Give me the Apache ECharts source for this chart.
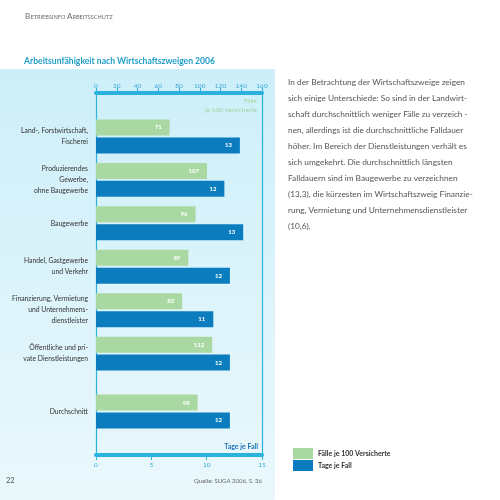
<!DOCTYPE html>
<html>
<head>
<meta charset="utf-8">
<script src="https://cdn.jsdelivr.net/npm/echarts@6/dist/echarts.min.js"></script>
<style>
html,body{margin:0;padding:0;background:#fff;}
#c{width:500px;height:500px;}
</style>
</head>
<body>
<div id="c"></div>
<script>
// ---- data ----
const categories = [
  'Land-, Forstwirtschaft,\nFischerei',
  'Produzierendes\nGewerbe,\nohne Baugewerbe',
  'Baugewerbe',
  'Handel, Gastgewerbe\nund Verkehr',
  'Finanzierung, Vermietung\nund Unternehmens-\ndienstleister',
  'Öffentliche und pri-\nvate Dienstleistungen',
  'Durchschnitt'
];
const faelleJe100 = [71, 107, 96, 89, 83, 112, 98];
const tageJeFall = [13.0, 11.6, 13.3, 12.1, 10.6, 12.1, 12.1];
const seriesNames = ['Fälle je 100 Versicherte', 'Tage je Fall'];
const faelleAxis = {min: 0, max: 160, interval: 20};
const tageAxis = {min: 0, max: 15, interval: 5};
const paragraph = [
  'In der Betrachtung der Wirtschaftszweige zeigen',
  'sich einige Unterschiede: So sind in der Landwirt-',
  'schaft durchschnittlich weniger Fälle zu verzeich -',
  'nen, allerdings ist die durchschnittliche Falldauer',
  'höher. Im Bereich der Dienstleistungen verhält es',
  'sich umgekehrt. Die durchschnittlich längsten',
  'Falldauern sind im Baugewerbe zu verzeichnen',
  '(13,3), die kürzesten im Wirtschaftszweig Finanzie-',
  'rung, Vermietung und Unternehmensdienstleister',
  '(10,6).'
];

// ---- layout (row placement on the category axis) ----
const rowSlot = [3, 6, 9, 12, 15, 18, 22];
const slotCount = 26;
const yData = new Array(slotCount).fill('');
const gData = new Array(slotCount).fill(null);
const bData = new Array(slotCount).fill(null);
rowSlot.forEach((s, i) => { yData[s] = categories[i]; gData[s] = faelleJe100[i]; bData[s] = tageJeFall[i]; });

const FONT = 'Lato';
const CYAN = '#2cb2de';
const GREEN = '#a9d8a3';
const BLUE = '#0b7dbf';

const chart = echarts.init(document.getElementById('c'), null, {renderer: 'canvas'});
chart.setOption({
  animation: false,
  textStyle: {fontFamily: FONT},
  graphic: [
    {type: 'rect', z: -10, shape: {x: 0, y: 69, width: 275, height: 431},
     style: {fill: new echarts.graphic.LinearGradient(0, 0, 0, 1, [
       {offset: 0, color: '#cdeff9'}, {offset: 1, color: '#eaf8fc'}])}},
    {type: 'text', x: 25, y: 12, style: {
      text: 'B', fill: '#6a6a6a', fontSize: 8, fontFamily: FONT}},
    {type: 'text', x: 30.5, y: 13.8, style: {
      text: 'ETRIEBSINFO', fill: '#6a6a6a', fontSize: 5.6, fontFamily: FONT}},
    {type: 'text', x: 67, y: 12, style: {
      text: 'A', fill: '#6a6a6a', fontSize: 8, fontFamily: FONT}},
    {type: 'text', x: 72.5, y: 13.8, style: {
      text: 'RBEITSSCHUTZ', fill: '#6a6a6a', fontSize: 5.6, fontFamily: FONT}},
    {type: 'text', x: 24, y: 57, style: {
      text: 'Arbeitsunfähigkeit nach Wirtschaftszweigen 2006',
      fill: '#1f9dc9', fontSize: 8.6, fontWeight: 'bold', fontFamily: FONT}},
    {type: 'text', x: 288, y: 74, style: {
      text: paragraph.join('\n'), fill: '#555', fontSize: 8.3, lineHeight: 16, fontFamily: FONT}},
    {type: 'text', x: 257, y: 97, style: {
      text: 'Fälle', fill: '#a6d3a1', fontSize: 6.5, align: 'right', fontFamily: FONT}},
    {type: 'text', x: 257, y: 106, style: {
      text: 'je 100 Versicherte', fill: '#a6d3a1', fontSize: 6.5, align: 'right', fontFamily: FONT}},
    {type: 'text', x: 258, y: 443, style: {
      text: 'Tage je Fall', fill: '#1b72b5', fontSize: 7, fontWeight: 'bold', align: 'right', fontFamily: FONT}},
    {type: 'text', x: 262, y: 478, style: {
      text: 'Quelle: SUGA 2006, S. 36', fill: '#666', fontSize: 6, align: 'right', fontFamily: FONT}},
    {type: 'text', x: 6, y: 477, style: {
      text: '22', fill: '#555', fontSize: 7.5, fontFamily: FONT}}
  ],
  legend: {
    orient: 'vertical', left: 288, top: 443, itemWidth: 20, itemHeight: 11, itemGap: 1,
    icon: 'rect', data: seriesNames,
    textStyle: {fontSize: 7, fontWeight: 'bold', color: '#333', fontFamily: FONT}
  },
  grid: {left: 96, right: 238, top: 93, bottom: 45, containLabel: false},
  xAxis: [
    {type: 'value', position: 'top', min: faelleAxis.min, max: faelleAxis.max, interval: faelleAxis.interval,
     axisLine: {show: true, lineStyle: {color: CYAN, width: 4}},
     axisTick: {show: true, length: 5, lineStyle: {color: CYAN, width: 1}},
     axisLabel: {color: '#3aaad6', fontSize: 6.5, margin: 4, fontFamily: FONT},
     splitLine: {show: false}},
    {type: 'value', position: 'bottom', min: tageAxis.min, max: tageAxis.max, interval: tageAxis.interval,
     axisLine: {show: true, lineStyle: {color: CYAN, width: 4}},
     axisTick: {show: true, length: 5, lineStyle: {color: CYAN, width: 1}},
     axisLabel: {color: '#3aaad6', fontSize: 6.5, margin: 6, fontFamily: FONT},
     splitLine: {show: false}}
  ],
  yAxis: [
    {type: 'category', inverse: true, boundaryGap: false, data: yData,
     axisLine: {show: true, onZero: false, lineStyle: {color: CYAN, width: 1.2}},
     axisTick: {show: false},
     axisLabel: {interval: 0, color: '#333', fontSize: 6.8, lineHeight: 11, margin: 8, align: 'right', fontFamily: FONT}},
    {type: 'category', inverse: true, boundaryGap: false, data: yData, position: 'right',
     axisLine: {show: true, onZero: false, lineStyle: {color: CYAN, width: 1.2}},
     axisTick: {show: false}, axisLabel: {show: false}}
  ],
  series: [
    {name: seriesNames[0], type: 'bar', xAxisIndex: 0, yAxisIndex: 0, data: gData,
     barWidth: 16, barGap: '12%', itemStyle: {color: GREEN},
     label: {show: true, position: 'insideRight', color: '#fff', fontSize: 6, fontWeight: 'bold', offset: [-3, 0],
       formatter: p => Math.round(p.value)}},
    {name: seriesNames[1], type: 'bar', xAxisIndex: 1, yAxisIndex: 0, data: bData,
     barWidth: 16, barGap: '12%', itemStyle: {color: BLUE},
     label: {show: true, position: 'insideRight', color: '#fff', fontSize: 6, fontWeight: 'bold', offset: [-3, 0],
       formatter: p => Math.round(p.value)}}
  ]
});
</script>
</body>
</html>
